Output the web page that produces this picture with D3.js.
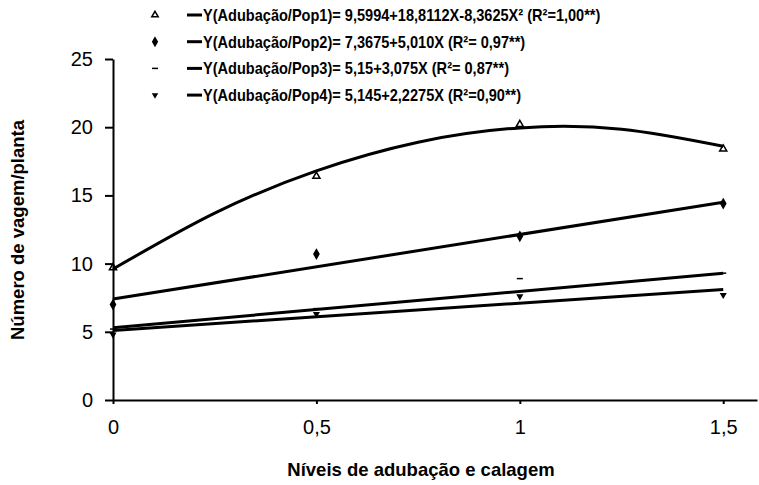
<!DOCTYPE html>
<html>
<head>
<meta charset="utf-8">
<script src="https://cdn.jsdelivr.net/npm/d3@7"></script>
<style>
    body { margin: 0; background: #fff; }
    svg { display: block; font-family: "Liberation Sans", Arial, sans-serif; }
    .axis path, .axis line { stroke: #000; stroke-width: 2; }
    .axis text { font-size: 20px; fill: #000; }
    .axis-title { font-size: 18.5px; font-weight: bold; text-anchor: middle; }
    .legend-text { font-size: 16px; font-weight: bold; }
    .fit { fill: none; stroke: #000; stroke-width: 3; }
</style>
</head>
<body>
<svg id="chart" width="759" height="485"></svg>
<script>
// observed means per dose level
const doses = [0, 0.5, 1, 1.5];
const pop1 = [9.7, 16.4, 20.2, 18.4];
const pop2 = [7.0, 10.7, 12.0, 14.4];
const pop3 = [5.2, 6.7, 8.9, 9.3];
const pop4 = [4.8, 6.3, 7.6, 7.7];

// fitted curves
const fitX1 = [0, 0.25, 0.5, 0.75, 1, 1.25, 1.5];
const fit1 = [9.6, 13.7, 16.8, 18.9, 19.95, 19.85, 18.6];
const fitX = [0, 1.5];
const fit2 = [7.4, 14.5];
const fit3 = [5.3, 9.3];
const fit4 = [5.1, 8.1];

const yTicks = [0, 5, 10, 15, 20, 25];
const xTicks = [0, 0.5, 1, 1.5];
const xTickLabels = ['0', '0,5', '1', '1,5'];

const legendLabels = [
    'Y(Adubação/Pop1)= 9,5994+18,8112X-8,3625X² (R²=1,00**)',
    'Y(Adubação/Pop2)= 7,3675+5,010X (R²= 0,97**)',
    'Y(Adubação/Pop3)= 5,15+3,075X (R²= 0,87**)',
    'Y(Adubação/Pop4)= 5,145+2,2275X (R²=0,90**)'
];
const symbols = [d3.symbolTriangle, d3.symbolDiamond, 'dash', 'down'];

const margin = { top: 59, right: 2, bottom: 85, left: 113 };
const width = 759 - margin.left - margin.right;
const height = 485 - margin.top - margin.bottom;

const svg = d3.select('#chart');
const chart = svg.append('g')
    .attr('transform', `translate(${margin.left},${margin.top})`);

// scales: x=1.5 sits at ~725px, axis runs on past it
const xScale = d3.scaleLinear().domain([0, 1.583]).range([0, width]);
const yScale = d3.scaleLinear().domain([0, 25]).range([height, 0]);

const xAxis = d3.axisBottom(xScale)
    .tickValues(xTicks)
    .tickFormat((d, i) => xTickLabels[i])
    .tickSizeInner(4)
    .tickSizeOuter(0)
    .tickPadding(16);

const yAxis = d3.axisLeft(yScale)
    .tickValues(yTicks)
    .tickSizeInner(8)
    .tickSizeOuter(0)
    .tickPadding(12);

chart.append('g')
    .attr('class', 'axis x-axis')
    .attr('transform', `translate(0,${height})`)
    .call(xAxis)
    .selectAll('line').attr('stroke-width', 1);

chart.append('g')
    .attr('class', 'axis y-axis')
    .call(yAxis);

// marker drawing helper
function drawMarker(g, kind, size) {
    if (kind === 'dash') {
        g.append('line').attr('x1', -3).attr('x2', 3)
            .attr('stroke', '#000').attr('stroke-width', 1.5);
    } else if (kind === 'down') {
        g.append('path')
            .attr('d', d3.symbol(d3.symbolTriangle).size(size)())
            .attr('transform', 'rotate(180)')
            .attr('fill', '#000');
    } else {
        g.append('path')
            .attr('d', d3.symbol(kind).size(size)())
            .attr('fill', kind === d3.symbolTriangle ? 'none' : '#000')
            .attr('stroke', '#000')
            .attr('stroke-width', 1.5);
    }
}

// fitted lines
const line = d3.line().x(d => xScale(d[0])).y(d => yScale(d[1]));
const fits = [
    { xs: fitX1, ys: fit1, curve: d3.curveNatural },
    { xs: fitX, ys: fit2, curve: d3.curveLinear },
    { xs: fitX, ys: fit3, curve: d3.curveLinear },
    { xs: fitX, ys: fit4, curve: d3.curveLinear }
];
fits.forEach(f => {
    chart.append('path')
        .attr('class', 'fit')
        .attr('d', line.curve(f.curve)(f.xs.map((x, i) => [x, f.ys[i]])));
});

// observed points
[pop1, pop2, pop3, pop4].forEach((series, s) => {
    chart.selectAll(`.pt${s}`)
        .data(series)
        .enter()
        .append('g')
        .attr('class', `pt${s}`)
        .attr('transform', (d, i) => `translate(${xScale(doses[i])},${yScale(d)})`)
        .each(function () { drawMarker(d3.select(this), symbols[s], 22); });
});

// legend (text squeezed a bit horizontally, like the original's narrow bold face)
const legend = svg.append('g');
legendLabels.forEach((label, i) => {
    const y = 15 + i * 26.7;
    const m = legend.append('g').attr('transform', `translate(155,${y})`);
    drawMarker(m, symbols[i], 18);
    legend.append('line')
        .attr('x1', 187).attr('x2', 202)
        .attr('y1', y).attr('y2', y)
        .attr('stroke', '#000').attr('stroke-width', 3);
    legend.append('text')
        .attr('class', 'legend-text')
        .attr('transform', `translate(203,${y + 6}) scale(0.91,1)`)
        .text(label);
});

// axis titles
svg.append('text')
    .attr('class', 'axis-title')
    .attr('transform', `translate(24,230) rotate(-90)`)
    .text('Número de vagem/planta');

svg.append('text')
    .attr('class', 'axis-title')
    .attr('x', 421)
    .attr('y', 476)
    .text('Níveis de adubação e calagem');
</script>
</body>
</html>
